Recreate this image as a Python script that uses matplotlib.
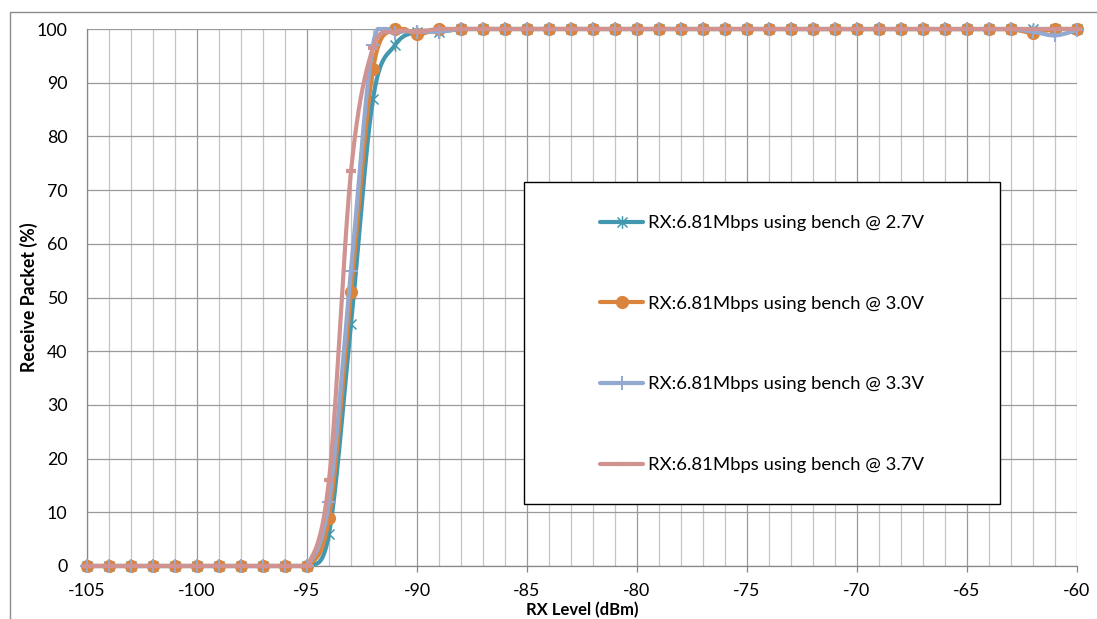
import numpy as np
import matplotlib
matplotlib.use("Agg")
import matplotlib.pyplot as plt
from matplotlib.lines import Line2D
from matplotlib.patches import Rectangle
from matplotlib.path import Path

plt.rcParams['font.family'] = ['Lato', 'DejaVu Sans']
plt.rcParams['axes.unicode_minus'] = False

# ---------------- data ----------------
rx_level = list(range(-105, -59))  # -105 ... -60

def _series(rise, tail):
    # 11 points of 0 (-105..-95), then the transition values, then the flat tail
    return [0.0] * 11 + rise + tail

v27 = _series([6, 45, 87, 97, 99.5, 99.5], [100.0] * 29)
v30 = _series([9, 51, 92.5, 100, 99, 100], [100.0] * 26 + [99.3, 100, 100])
v33 = _series([12, 55, 97, 99.3, 99.5, 99.5], [100.0] * 26 + [99.5, 98.8, 99.8])
v37 = _series([16, 73.5, 96.5, 99.5, 99.5, 100], [100.0] * 29)

labels = ["RX:6.81Mbps using bench @ 2.7V",
          "RX:6.81Mbps using bench @ 3.0V",
          "RX:6.81Mbps using bench @ 3.3V",
          "RX:6.81Mbps using bench @ 3.7V"]
series = [v27, v30, v33, v37]

x_ticks = list(range(-105, -59, 5))
y_ticks = list(range(0, 101, 10))

# ---------------- styles ----------------
colors = ["#4198AF", "#DB843D", "#93A9CF", "#D19392"]
star = Path([(0, -1), (0, 1), (-0.8, -0.8), (0.8, 0.8), (-0.8, 0.8), (0.8, -0.8)],
            [Path.MOVETO, Path.LINETO, Path.MOVETO, Path.LINETO, Path.MOVETO, Path.LINETO])
marker_styles = [
    dict(marker=star, markersize=9, markeredgewidth=1.1, markerfacecolor='none'),
    dict(marker='o', markersize=9.5, markeredgewidth=0),
    dict(marker='+', markersize=9.5, markeredgewidth=1.5),
    dict(marker='_', markersize=7, markeredgewidth=3),
]


def smooth(xs, ys, n=24):
    """Excel-like smoothed line (Bezier through points, Catmull-Rom tangents)."""
    p = np.column_stack([np.asarray(xs, float), np.asarray(ys, float)])
    pad = np.vstack([p[0], p, p[-1]])
    out = [p[:1]]
    t = np.linspace(0, 1, n)[1:, None]
    for i in range(len(p) - 1):
        p0, p1, p2, p3 = pad[i], pad[i + 1], pad[i + 2], pad[i + 3]
        c1 = p1 + (p2 - p0) / 6.0
        c2 = p2 - (p3 - p1) / 6.0
        seg = ((1 - t) ** 3) * p1 + 3 * ((1 - t) ** 2) * t * c1 + 3 * (1 - t) * t ** 2 * c2 + t ** 3 * p2
        out.append(seg)
    s = np.vstack(out)
    # keep the drawn curve inside the 0..100 value range (no visible over/undershoot)
    return s[:, 0], np.clip(s[:, 1], 0, 100)


W, H = 1097, 619
fig = plt.figure(figsize=(W / 100, H / 100), dpi=100)
ax = fig.add_axes([87 / W, 1 - 566 / H, (1077 - 87) / W, (566 - 29) / H])

# outer chart-area border
fig.add_artist(Rectangle((9.5 / W, -0.2), 1.2, 1.2 - 12.5 / H, transform=fig.transFigure,
                         fill=False, edgecolor='#8C8C8C', linewidth=1.0, zorder=0))

handles = []
for i, (vals, col, ms) in enumerate(zip(series, colors, marker_styles)):
    sx, sy = smooth(rx_level, vals)
    ax.plot(sx, sy, color=col, lw=3, solid_capstyle='round', solid_joinstyle='round',
            zorder=3 + i, clip_on=False)
    ax.plot(rx_level, vals, linestyle='none', color=col, markeredgecolor=col,
            zorder=3 + i, clip_on=False, **ms)
    handles.append(Line2D([], [], color=col, lw=3, markeredgecolor=col,
                          solid_capstyle='round', **ms))

ax.set_xlim(-105, -60)
ax.set_ylim(0, 100)
ax.set_xticks(x_ticks)
ax.set_xticks(rx_level, minor=True)
ax.set_yticks(y_ticks)
ax.set_xticklabels([str(v) for v in x_ticks])
ax.set_yticklabels([str(v) for v in y_ticks])

ax.grid(which='major', axis='both', color='#9A9A9A', linewidth=0.9)
ax.grid(which='minor', axis='x', color='#C4C4C4', linewidth=0.9)
ax.set_axisbelow(True)

for s in ['top', 'right']:
    ax.spines[s].set_visible(False)
for s in ['left', 'bottom']:
    ax.spines[s].set_color('#868686')
    ax.spines[s].set_linewidth(0.9)

ax.tick_params(axis='x', which='major', direction='out', length=4, width=0.9,
               color='#868686', pad=8, labelsize=12.8, labelcolor='black')
ax.tick_params(axis='x', which='minor', length=0)
ax.tick_params(axis='y', which='major', length=0, pad=14, labelsize=12.8, labelcolor='black')

ax.set_xlabel("RX Level (dBm)", fontsize=12, fontweight='bold', va='top')
ax.xaxis.set_label_coords(0.5, -0.0675)
ax.set_ylabel("Receive Packet (%)", fontsize=12.8, fontweight='bold')
ax.yaxis.set_label_coords(-0.05, 0.5)

# legend box
fig.add_artist(Rectangle((524 / W, 1 - 504 / H), (1000 - 524) / W, (504 - 182) / H,
                         transform=fig.transFigure, facecolor='white', edgecolor='black',
                         linewidth=1.0, zorder=20))
leg = fig.legend(handles, labels, loc='center', bbox_to_anchor=(762 / W, 1 - 344 / H),
                 frameon=False, fontsize=13.3, handlelength=2.3, handletextpad=0.25,
                 labelspacing=3.5, numpoints=1, borderpad=0)
leg.set_zorder(21)

fig.savefig("out.png", dpi=100)
